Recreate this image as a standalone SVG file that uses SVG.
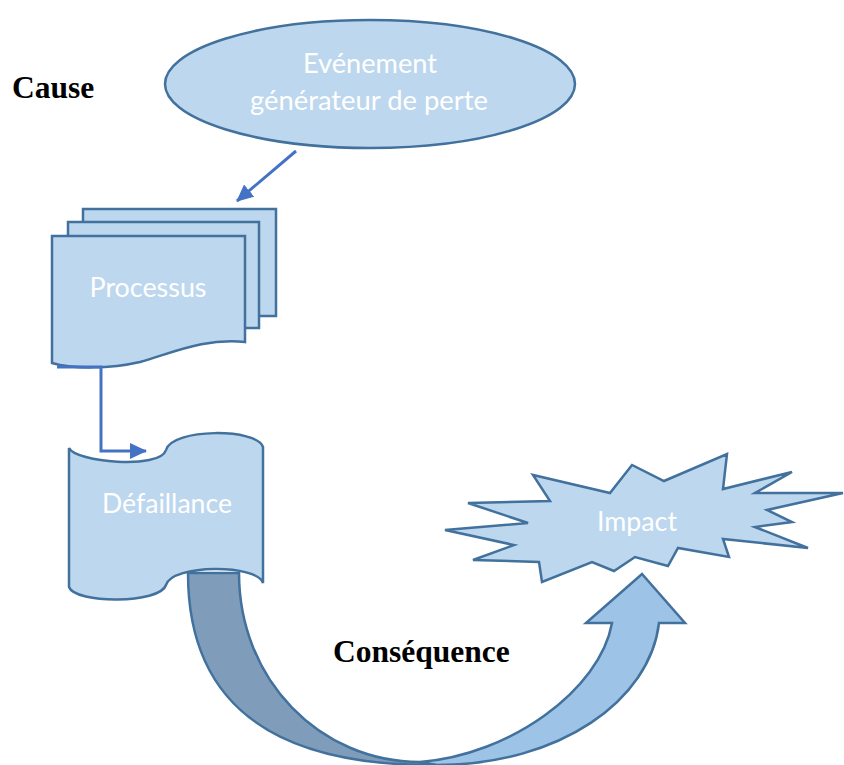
<svg xmlns="http://www.w3.org/2000/svg" width="844" height="765" viewBox="0 0 844 765">
<defs>
<style>
.shape{fill:#BDD7EE;stroke:#41719C;stroke-width:2.5;stroke-linejoin:miter}
.lbl{font-family:Lato,"Open Sans",sans-serif;font-size:27px;fill:#FFFFFF;text-anchor:middle}
.title{font-family:"Liberation Serif","Times New Roman",serif;font-size:31.5px;font-weight:bold;fill:#000000}
.conn{fill:none;stroke:#4472C4;stroke-width:3}
</style>
<marker id="ah" markerUnits="userSpaceOnUse" markerWidth="17" markerHeight="16" viewBox="0 0 17 16" refX="16" refY="8" orient="auto">
<path d="M0,0 L17,8 L0,16 Z" fill="#4472C4"/>
</marker>
</defs>
<rect width="844" height="765" fill="#FFFFFF"/>

<text class="title" x="12" y="98">Cause</text>
<text class="title" x="333" y="662">Conséquence</text>

<g id="evenement">
<ellipse class="shape" cx="370" cy="84" rx="205" ry="64"/>
<text class="lbl" x="370" y="73" textLength="134" lengthAdjust="spacingAndGlyphs">Evénement</text>
<text class="lbl" x="369" y="110" textLength="238" lengthAdjust="spacingAndGlyphs">générateur de perte</text>
</g>

<g id="processus">
<rect class="shape" x="83" y="209" width="193" height="107"/>
<rect class="shape" x="68" y="222" width="191" height="106"/>
<path class="shape" d="M52,236 H245 V342 C205,338 175,352 140,362 C110,369 72,369 52,363 Z"/>
<text class="lbl" x="148" y="297" textLength="117" lengthAdjust="spacingAndGlyphs">Processus</text>
</g>

<g id="defaillance">
<path class="shape" d="M69,448 C75,462 160,470 166,450 C172,428 257,428 263,447 V583 C257,564 172,564 166,585 C160,604 75,604 69,587 Z"/>
<text class="lbl" x="167" y="513" textLength="130" lengthAdjust="spacingAndGlyphs">Défaillance</text>
</g>

<g id="impact">
<polygon class="shape" points="445,530 528,523 468,503 550,501 533,475 610,493 632,465 664,481 727,454 723,489 792,472 755,493 843,493 767,510 792,522 755,527 808,548 723,539 729,557 678,548 668,566 635,557 614,571 592,562 542,582 539,562 473,560 514,545"/>
<text class="lbl" x="637" y="531" textLength="80" lengthAdjust="spacingAndGlyphs">Impact</text>
</g>

<g id="consequence-arrow">
<path d="M188,573 L239,573 C239,680 320,762 420,762 L432,765 C280,765 188,710 188,573 Z" fill="#7F9DBB" stroke="#41719C" stroke-width="2.5"/>
<path d="M420,762 C510,755 600,690 612,623 L586,623 L642,574 L685,623 L659,623 C650,700 560,765 437,765 Z" fill="#9DC3E6" stroke="#41719C" stroke-width="2.5" stroke-linejoin="miter"/>
</g>

<g id="connectors">
<line class="conn" x1="296" y1="151" x2="237" y2="201" marker-end="url(#ah)"/>
<polyline class="conn" points="57,367 101,367 101,451 146,451" marker-end="url(#ah)"/>
</g>
</svg>
